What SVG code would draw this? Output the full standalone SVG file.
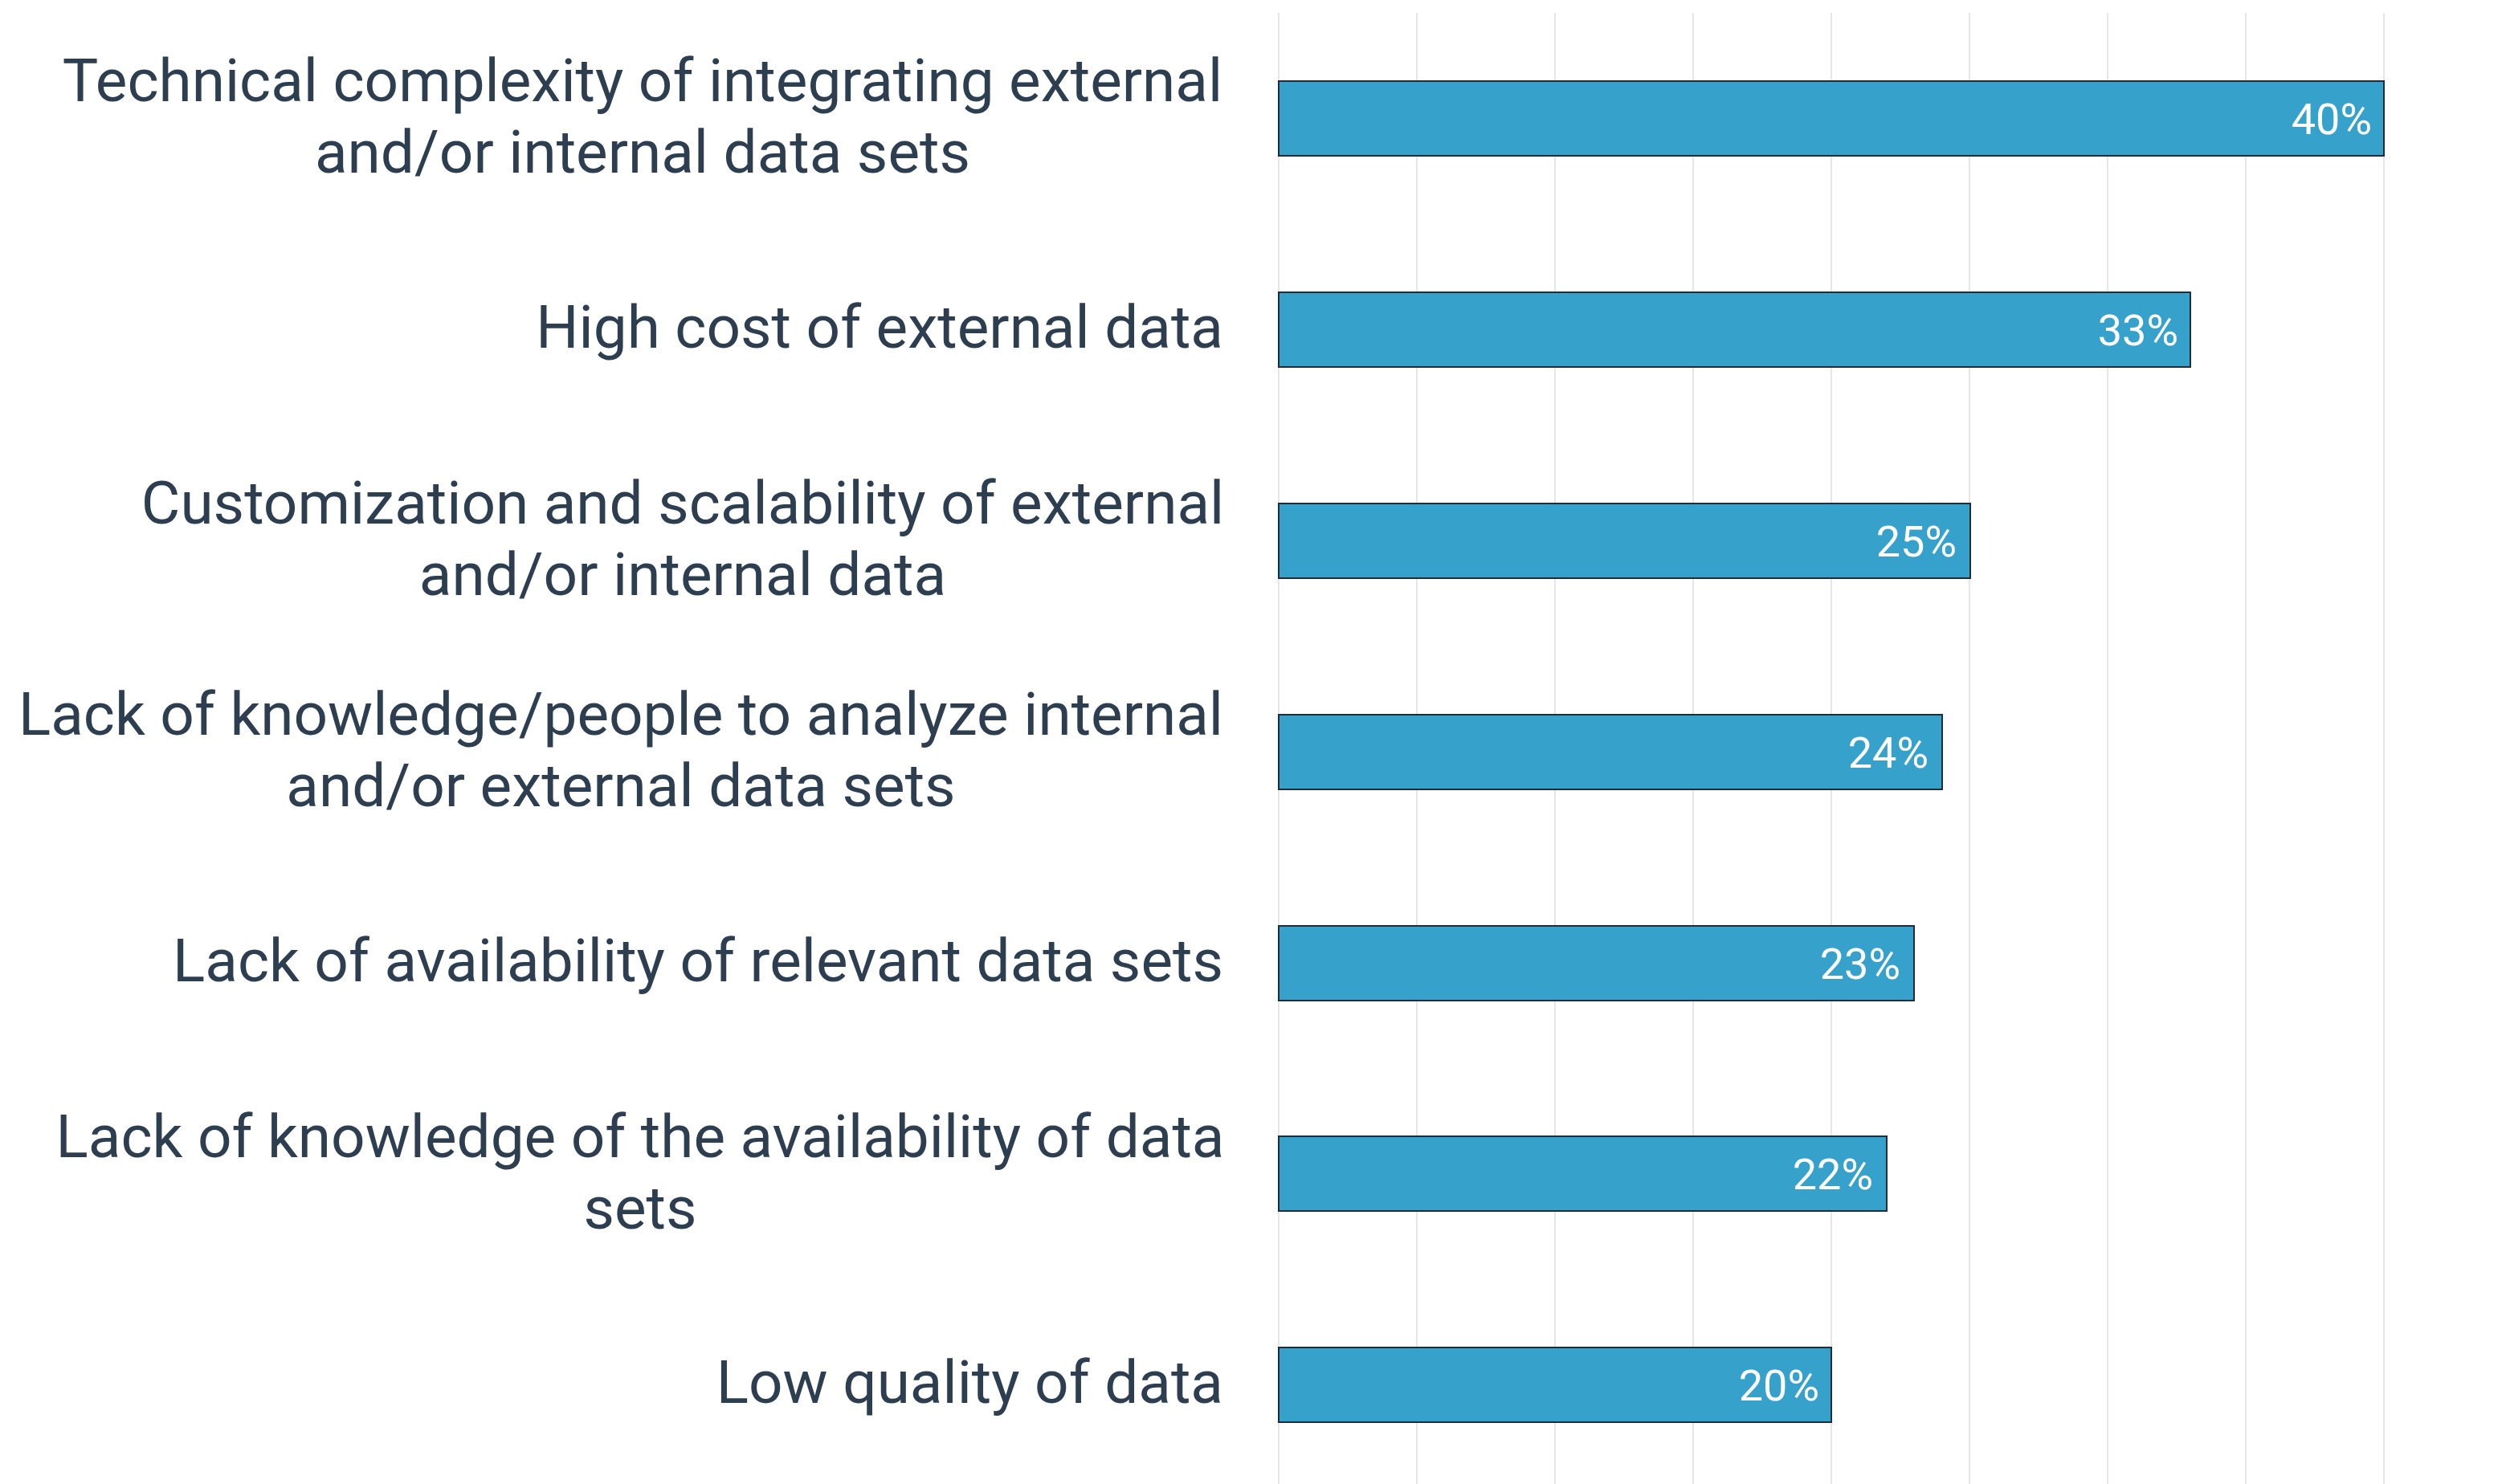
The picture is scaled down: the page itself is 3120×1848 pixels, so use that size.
<svg xmlns="http://www.w3.org/2000/svg" width="3120" height="1848" viewBox="0 0 3120 1848">
<style>
.grid{stroke:#e6e6e6;stroke-width:2}
.bar{fill:#36a2cc;stroke:#1f2d3a;stroke-width:2}
.lab{font-family:Roboto,"Liberation Sans",sans-serif;font-size:74.7px;fill:#2c3e50}
.val{font-family:Roboto,"Liberation Sans",sans-serif;font-size:54px;fill:#ffffff;text-anchor:end}
</style>
<rect width="3120" height="1848" fill="#ffffff"/>
<g id="gridlines">
<line class="grid" x1="1592" y1="16" x2="1592" y2="1848"/>
<line class="grid" x1="1764" y1="16" x2="1764" y2="1848"/>
<line class="grid" x1="1936" y1="16" x2="1936" y2="1848"/>
<line class="grid" x1="2108" y1="16" x2="2108" y2="1848"/>
<line class="grid" x1="2280" y1="16" x2="2280" y2="1848"/>
<line class="grid" x1="2452" y1="16" x2="2452" y2="1848"/>
<line class="grid" x1="2624" y1="16" x2="2624" y2="1848"/>
<line class="grid" x1="2796" y1="16" x2="2796" y2="1848"/>
<line class="grid" x1="2968" y1="16" x2="2968" y2="1848"/>
</g>
<g id="bar1">
<rect class="bar" x="1592" y="101" width="1376" height="93"/>
<text class="val" x="2953" y="167">40%</text>
<text class="lab" text-anchor="middle" x="800" y="126">Technical complexity of integrating external</text>
<text class="lab" text-anchor="middle" x="800" y="215">and/or internal data sets</text>
</g>
<g id="bar2">
<rect class="bar" x="1592" y="364" width="1135" height="93"/>
<text class="val" x="2712" y="430">33%</text>
<text class="lab" text-anchor="end" x="1523" y="433">High cost of external data</text>
</g>
<g id="bar3">
<rect class="bar" x="1592" y="627" width="861" height="93"/>
<text class="val" x="2436" y="693">25%</text>
<text class="lab" text-anchor="middle" x="850" y="652">Customization and scalability of external</text>
<text class="lab" text-anchor="middle" x="850" y="741">and/or internal data</text>
</g>
<g id="bar4">
<rect class="bar" x="1592" y="890" width="826" height="93"/>
<text class="val" x="2401" y="956">24%</text>
<text class="lab" text-anchor="middle" x="773" y="915">Lack of knowledge/people to analyze internal</text>
<text class="lab" text-anchor="middle" x="773" y="1004">and/or external data sets</text>
</g>
<g id="bar5">
<rect class="bar" x="1592" y="1153" width="791" height="93"/>
<text class="val" x="2366" y="1219">23%</text>
<text class="lab" text-anchor="end" x="1523" y="1222">Lack of availability of relevant data sets</text>
</g>
<g id="bar6">
<rect class="bar" x="1592" y="1415" width="757" height="93"/>
<text class="val" x="2332" y="1481">22%</text>
<text class="lab" text-anchor="middle" x="797" y="1441">Lack of knowledge of the availability of data</text>
<text class="lab" text-anchor="middle" x="797" y="1530">sets</text>
</g>
<g id="bar7">
<rect class="bar" x="1592" y="1678" width="688" height="93"/>
<text class="val" x="2265" y="1744">20%</text>
<text class="lab" text-anchor="end" x="1523" y="1747">Low quality of data</text>
</g>
</svg>
